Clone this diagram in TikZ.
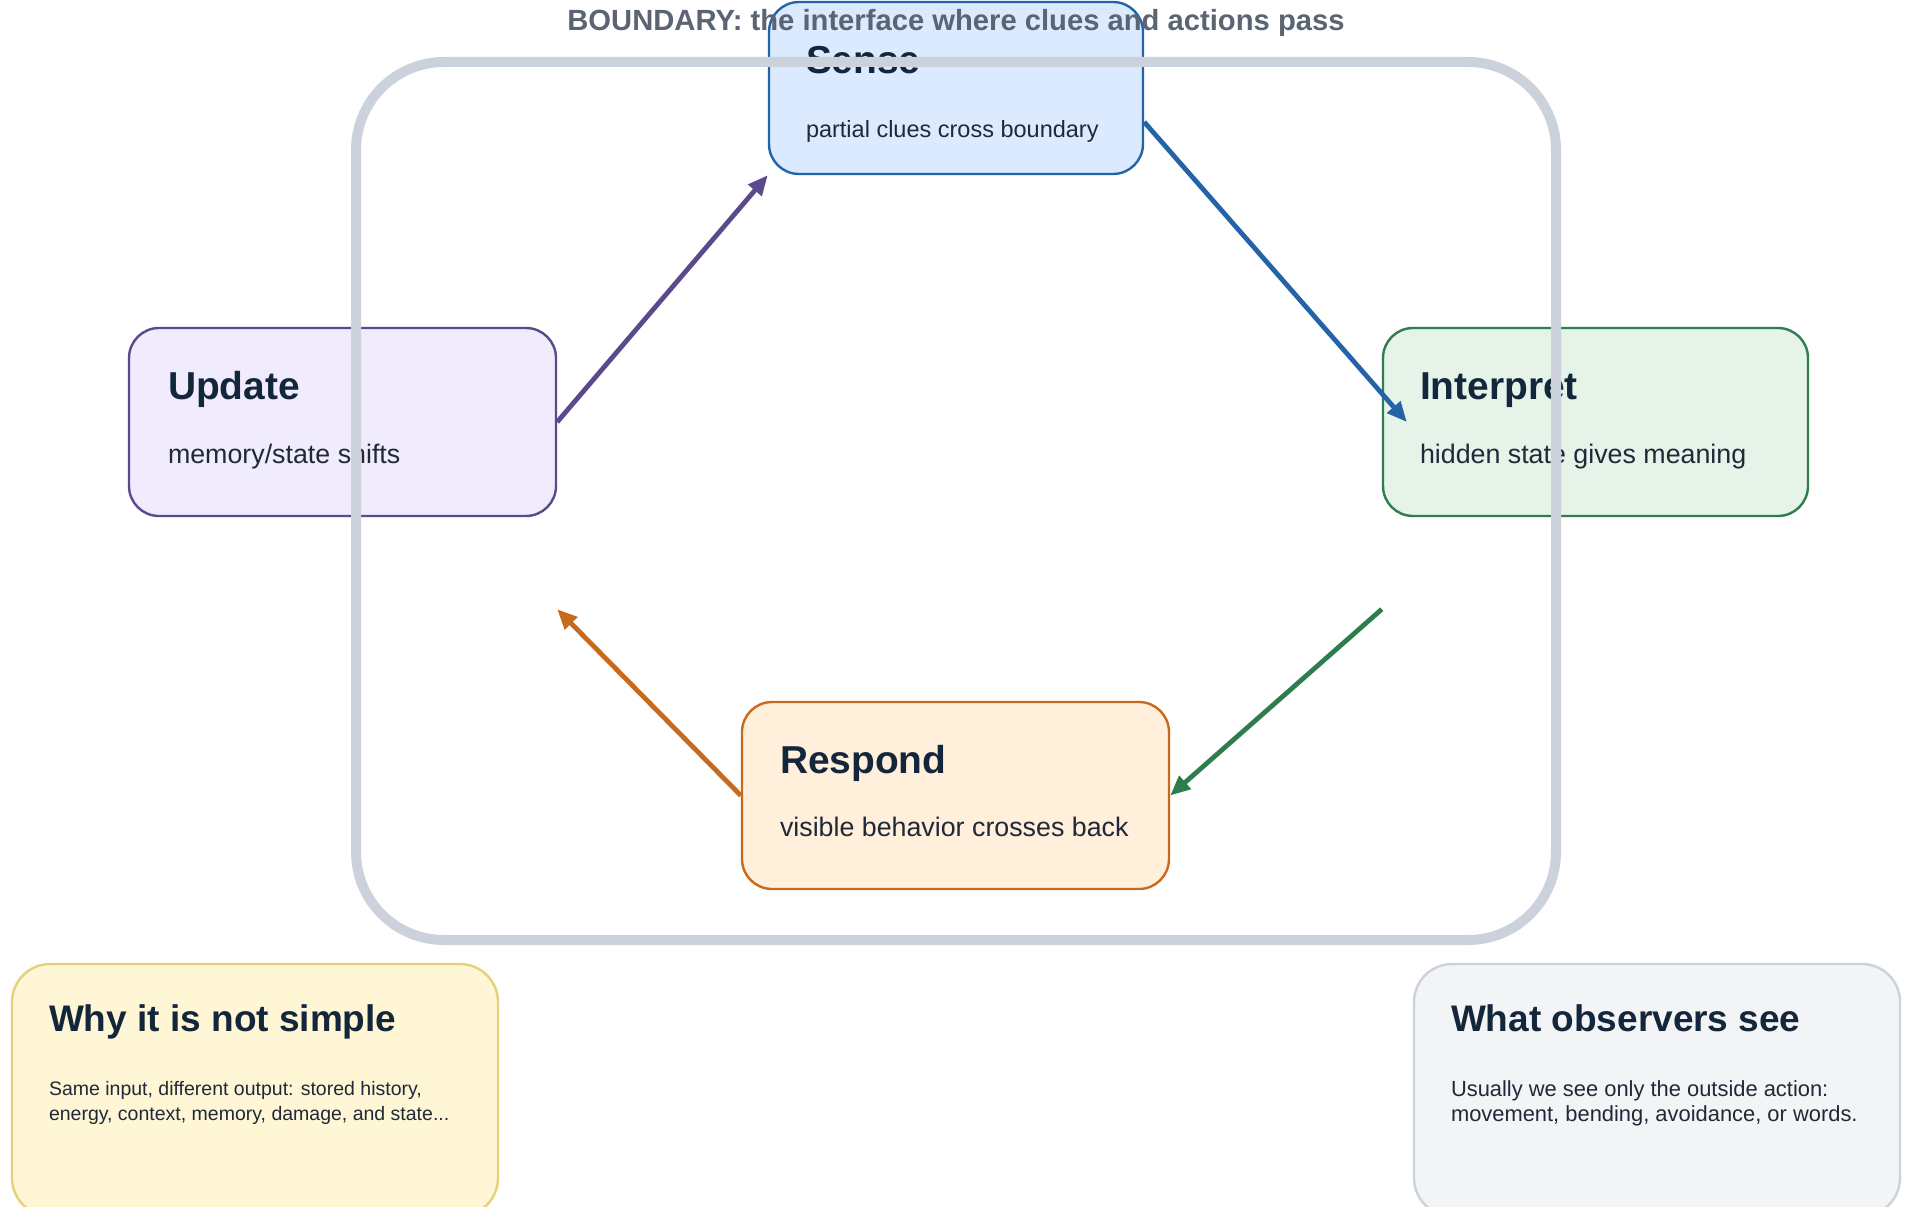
\documentclass[tikz,border=0pt]{standalone}
\usepackage{fontspec}
\setmainfont{Liberation Sans}
\usetikzlibrary{arrows.meta,calc}
\definecolor{Ink}{HTML}{13263B}
\definecolor{SubInk}{HTML}{1F2937}
\definecolor{SenseLine}{HTML}{2563A8}
\definecolor{SenseFill}{HTML}{DBEAFE}
\definecolor{UpdLine}{HTML}{5B4A8B}
\definecolor{UpdFill}{HTML}{F0EBFD}
\definecolor{IntLine}{HTML}{2E7D4F}
\definecolor{IntFill}{HTML}{E5F3E9}
\definecolor{ResLine}{HTML}{C86A1E}
\definecolor{ResFill}{HTML}{FFEFDB}
\definecolor{WhyLine}{HTML}{E6D17A}
\definecolor{WhyFill}{HTML}{FEF6D5}
\definecolor{SeeLine}{HTML}{CBD2DC}
\definecolor{SeeFill}{HTML}{F3F4F6}
\definecolor{Frame}{HTML}{CBD2DC}
\definecolor{LabelGray}{HTML}{5A6472}

\begin{document}
\begin{tikzpicture}[x=1pt,y=-1pt,
    stage/.style 2 args={draw=#1,fill=#2,line width=2.4pt,rounded corners=30pt,inner sep=0pt},
    note/.style 2 args={draw=#1,fill=#2,line width=2.4pt,rounded corners=38pt,inner sep=0pt,minimum width=486pt,minimum height=252pt},
    head/.style={anchor=base west,inner sep=0pt,text=Ink,font=\fontsize{38.9}{44}\selectfont\bfseries},
    notehead/.style={head,font=\fontsize{37}{42}\selectfont\bfseries},
    sub/.style={anchor=base west,inner sep=0pt,text=SubInk,font=\fontsize{26.8}{32}\selectfont},
    notetext/.style={anchor=base west,inner sep=0pt,text=SubInk,align=left,font=\fontsize{19.5}{24.5}\selectfont},
    flow/.style={line width=4.8pt,-{Triangle[length=20pt,width=17pt]}}]
    \useasboundingbox (0,0) rectangle (1907,1207);

    \node[stage={SenseLine}{SenseFill},minimum width=374pt,minimum height=172pt] (sense) at (956,88) {};
    \node[stage={UpdLine}{UpdFill},minimum width=427pt,minimum height=188pt] (update) at (342.5,422) {};
    \node[stage={IntLine}{IntFill},minimum width=425pt,minimum height=188pt] (interp) at (1595.5,422) {};
    \node[stage={ResLine}{ResFill},minimum width=427pt,minimum height=187pt] (respond) at (955.5,795.5) {};

    \node[head] (senseT) at ($(sense.north west)+(38,73)$) {Sense};
    \node[sub,font=\fontsize{23.5}{28}\selectfont] (senseS) at ($(sense.north west)+(38,136.5)$) {partial clues cross boundary};
    \node[head] (updateT) at ($(update.north west)+(40,72.5)$) {Update};
    \node[sub] (updateS) at ($(update.north west)+(40,136.5)$) {memory/state shifts};
    \node[head] (interpT) at ($(interp.north west)+(38,72.5)$) {Interpret};
    \node[sub] (interpS) at ($(interp.north west)+(38,136.5)$) {hidden state gives meaning};
    \node[head] (respondT) at ($(respond.north west)+(39,72.5)$) {Respond};
    \node[sub] (respondS) at ($(respond.north west)+(39,135.5)$) {visible behavior crosses back};

    \node[note={WhyLine}{WhyFill}] (why) at (255,1090) {};
    \node[note={SeeLine}{SeeFill}] (see) at (1657,1090) {};
    \node[notehead] (whyT) at ($(why.north west)+(38,69)$) {Why it is not simple};
    \node[notetext] (whyS) at ($(why.north west)+(38,157.5)$) {Same input, different output: stored history,\\energy, context, memory, damage, and state...};
    \node[notehead] (seeT) at ($(see.north west)+(38,69)$) {What observers see};
    \node[notetext,font=\fontsize{21.9}{25.5}\selectfont] (seeS) at ($(see.north west)+(38,159)$) {Usually we see only the outside action:\\movement, bending, avoidance, or words.};

    % boundary
    \draw[line width=10pt,draw=Frame,rounded corners=88pt] (356,62) rectangle (1556,940);

    \coordinate (senseOut) at ($(sense.east)+(0,34)$);
    \coordinate (interpIn) at ($(interp.west)+(25,0)$);
    \coordinate (interpOut) at ($(interp.south west)+(0,92)$);
    \coordinate (updateIn) at ($(update.south east)+(0,92)$);
    \draw[flow,UpdLine] (update.east) -- (sense.south west);
    \draw[flow,SenseLine] (senseOut) -- (interpIn);
    \draw[flow,IntLine] (interpOut) -- (respond.east);
    \draw[flow,ResLine] (respond.west) -- (updateIn);

    \node[anchor=base,inner sep=0pt,text=LabelGray,font=\fontsize{29.2}{34}\selectfont\bfseries] (bLabel) at (956,31) {BOUNDARY: the interface where clues and actions pass};
\end{tikzpicture}
\end{document}
